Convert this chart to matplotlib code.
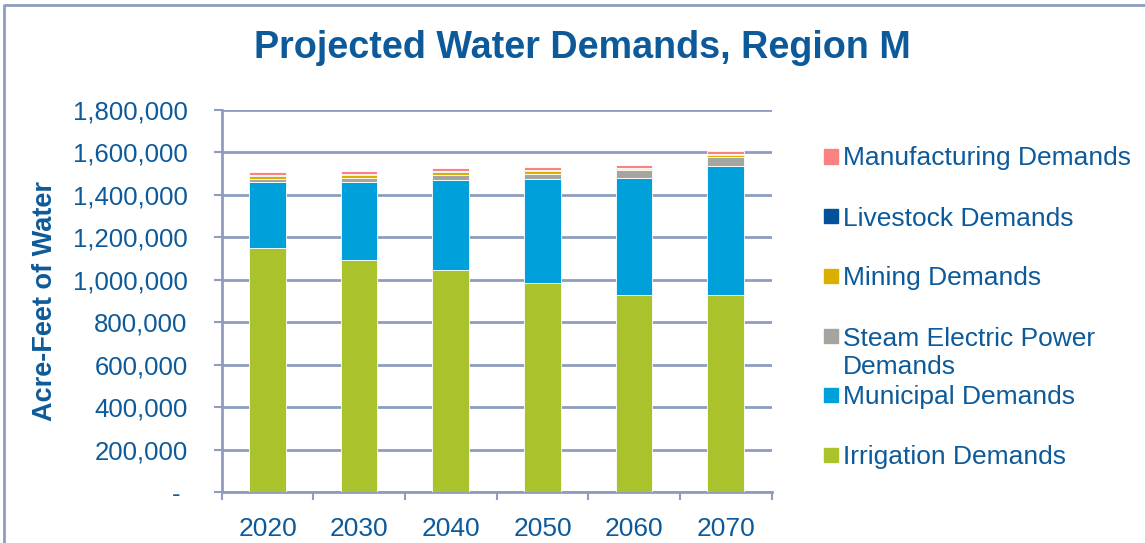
import matplotlib
matplotlib.use("Agg")
import matplotlib.pyplot as plt
from matplotlib.patches import Rectangle
from matplotlib.lines import Line2D

plt.rcParams['font.family'] = ['Liberation Sans', 'DejaVu Sans']

years = ["2020", "2030", "2040", "2050", "2060", "2070"]
irrigation = [1150000, 1093000, 1046000, 985000, 928000, 928000]
municipal = [309000, 369000, 426000, 488000, 550000, 610000]
steam_electric = [16000, 19000, 23000, 28000, 38000, 42000]
mining = [14000, 14000, 12000, 12000, 5000, 6000]
livestock = [5000, 5000, 5000, 5000, 5000, 5000]
manufacturing = [12000, 12000, 14000, 16000, 14000, 14000]

series_names = ["Irrigation Demands", "Municipal Demands", "Steam Electric Power\nDemands",
                "Mining Demands", "Livestock Demands", "Manufacturing Demands"]
series_colors = ["#AAC22C", "#00A0DA", "#A6A49E", "#D9B000", "#03519A", "#FA8282"]
y_ticks = [0, 200000, 400000, 600000, 800000, 1000000, 1200000, 1400000, 1600000, 1800000]

text_col = "#0D5A9A"
grid_col = "#8E9DBE"

fig = plt.figure(figsize=(11.45, 5.43), dpi=100)
ax = fig.add_axes([0.1936, 0.0934, 0.4803, 0.704])

series = [irrigation, municipal, steam_electric, mining, livestock, manufacturing]
x = list(range(len(years)))
bottom = [0] * len(years)
for vals, col in zip(series, series_colors):
    ax.bar(x, vals, width=0.40, bottom=bottom, color=col, edgecolor="#FFFFFF",
           linewidth=0.6, zorder=3)
    bottom = [b + v for b, v in zip(bottom, vals)]

ax.set_xlim(-0.5, len(years) - 0.5)
ax.set_ylim(0, 1800000)
ax.set_yticks(y_ticks)
ax.set_yticklabels([f"{v:,}" if v else "- " for v in y_ticks])
ax.set_xticks(x)
ax.set_xticklabels(years)
ax.set_xticks([i - 0.5 for i in range(len(years) + 1)], minor=True)
ax.tick_params(axis='x', which='major', length=0, pad=18, labelsize=19, labelcolor=text_col)
ax.tick_params(axis='x', which='minor', length=6, width=1.5, color=grid_col)
ax.tick_params(axis='y', length=6, width=1.5, color=grid_col, pad=18.5,
               labelsize=18.5, labelcolor=text_col)

ax.grid(axis='y', color=grid_col, linewidth=2, zorder=0)
for s in ["top", "right"]:
    ax.spines[s].set_visible(False)
for s in ["left", "bottom"]:
    ax.spines[s].set_color(grid_col)
    ax.spines[s].set_linewidth(2)

ax.set_ylabel("Acre-Feet of Water", fontsize=19.5, fontweight='bold', color=text_col)
ax.yaxis.set_label_coords(-0.298, 0.5)

fig.text(0.509, 0.912, "Projected Water Demands, Region M", ha='center', va='center',
         fontsize=27.2, fontweight='bold', color=text_col)

# legend drawn by hand (handle centres, top entry last)
leg_y = [455, 395, 336, 276, 216.5, 156.5]
for name, col, yy in zip(series_names, series_colors, leg_y):
    yf = 1 - yy / 543
    fig.patches.append(Rectangle((824 / 1145, yf - 7 / 543), 14 / 1145, 14 / 543,
                                 transform=fig.transFigure, color=col))
    n_lines = name.count("\n") + 1
    ty = yy + 2 + (n_lines - 1) * 15
    fig.text(843 / 1145, 1 - ty / 543, name, ha='left', va='center',
             fontsize=19, color=text_col, linespacing=1.18)

# chart border
fig.add_artist(Line2D([3.5 / 1145, 3.5 / 1145, 1], [0, 1 - 4.5 / 543, 1 - 4.5 / 543],
                      transform=fig.transFigure, color="#8E9DBE", linewidth=2))

fig.savefig("out.png", dpi=100)
